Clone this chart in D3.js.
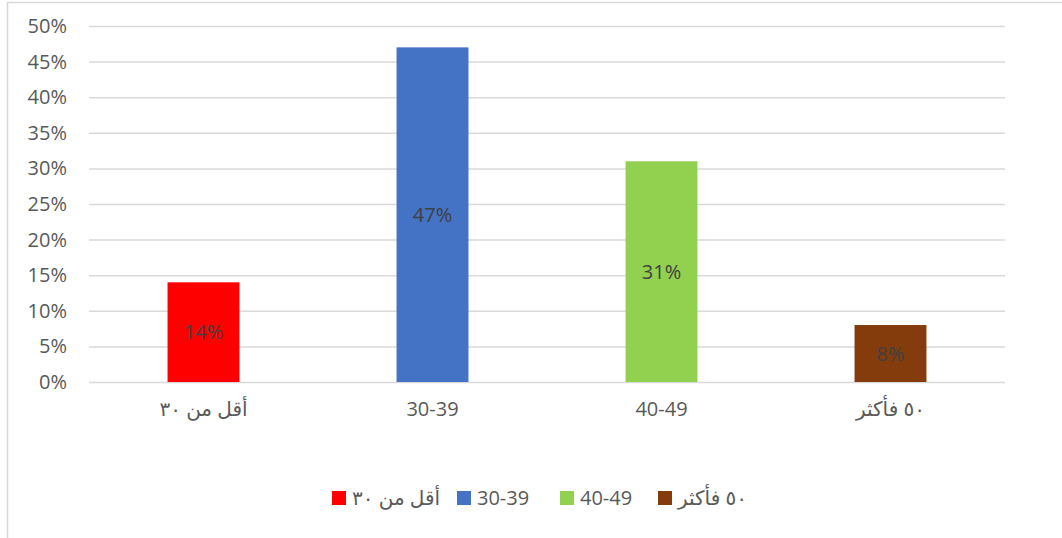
<!DOCTYPE html>
<html>
<head>
<meta charset="utf-8">
<script src="https://cdn.jsdelivr.net/npm/d3@7"></script>
<style>
  body { margin: 0; background: #fff; }
  svg { display: block; }
  .tick text { fill: #595959; }
</style>
</head>
<body>
<div id="vis"></div>
<script>
// age groups and share of respondents
var categories = ["أقل من ٣٠", "30-39", "40-49", "٥٠ فأكثر"];
var values = [0.14, 0.47, 0.31, 0.08];
var colors = ["#ff0000", "#4472c4", "#92d050", "#843c0c"];
var yTicks = [0, 0.05, 0.10, 0.15, 0.20, 0.25, 0.30, 0.35, 0.40, 0.45, 0.50];

var width = 1062
var height = 538
var font = "'Open Sans', 'DejaVu Sans', sans-serif"
var fontSize = '20px '

var svg = d3.select('#vis').append('svg')
  .attr('width', width)
  .attr('height', height)

// chart frame
svg.append('path')
  .attr('d', 'M7.5,' + height + 'V2.5H' + width)
  .attr('fill', 'none')
  .attr('stroke', '#d9d9d9')
  .attr('stroke-width', 1.5)

var x = d3.scaleBand()
  .domain(categories)
  .range([89, 1005])
  .paddingInner(0.686)
  .paddingOuter(0.343)

var y = d3.scaleLinear()
  .domain([0, 0.5])
  .range([382, 26])

// gridlines + y labels
var yAxis = d3.axisLeft(y)
  .tickValues(yTicks)
  .tickFormat(d3.format(".0%"))
  .tickSize(-(1005 - 89))
  .tickPadding(22)

var gy = svg.append('g')
  .attr('transform', 'translate(89,0)')
  .call(yAxis)
gy.select('.domain').remove()
gy.selectAll('.tick line').attr('stroke', '#d9d9d9').attr('stroke-width', 1.5)
gy.selectAll('.tick text').style('font', fontSize + font)

// x labels
var xAxis = d3.axisBottom(x).tickSize(0).tickPadding(20)
var gx = svg.append('g')
  .attr('transform', 'translate(0,382)')
  .call(xAxis)
gx.select('.domain').remove()
gx.selectAll('.tick text').style('font', fontSize + font)

// bars
svg.selectAll('.bar')
  .data(values)
  .enter().append('rect')
  .attr('class', 'bar')
  .attr('x', function(d, i) { return x(categories[i]) })
  .attr('width', x.bandwidth())
  .attr('y', function(d) { return y(d) })
  .attr('height', function(d) { return y(0) - y(d) })
  .attr('fill', function(d, i) { return colors[i] })

// data labels
svg.selectAll('.lbl')
  .data(values)
  .enter().append('text')
  .attr('class', 'lbl')
  .attr('x', function(d, i) { return x(categories[i]) + x.bandwidth() / 2 })
  .attr('y', function(d) { return (y(d) + y(0)) / 2 })
  .attr('dy', '0.35em')
  .attr('text-anchor', 'middle')
  .style('font', fontSize + font)
  .attr('fill', '#404040')
  .text(function(d) { return d3.format(".0%")(d) })

// legend
var legendX = [332, 457, 560, 658]
var legend = svg.selectAll('.legendItem')
  .data(categories)
  .enter().append('g')
  .attr('class', 'legendItem')
  .attr('transform', function(d, i) { return 'translate(' + legendX[i] + ',491)' })

legend.append('rect')
  .attr('width', 14)
  .attr('height', 14)
  .attr('fill', function(d, i) { return colors[i] })

legend.append('text')
  .attr('x', 20)
  .attr('y', 7)
  .attr('dy', '0.35em')
  .style('font', fontSize + font)
  .attr('fill', '#595959')
  .text(function(d) { return d })
</script>
</body>
</html>
